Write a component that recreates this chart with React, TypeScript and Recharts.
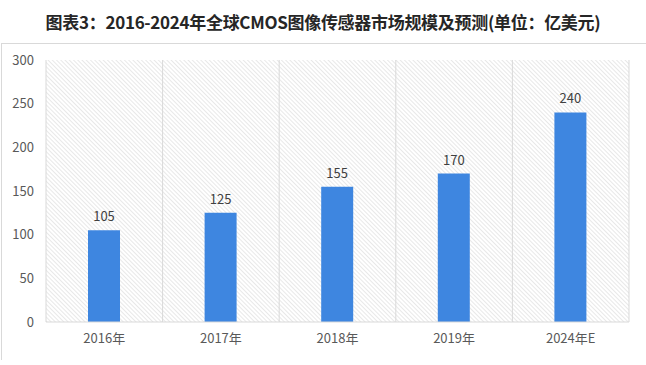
import React from 'react';
import { BarChart, Bar, XAxis, YAxis, CartesianGrid, LabelList } from 'recharts';

const categories = ['2016年', '2017年', '2018年', '2019年', '2024年E'];
const marketSize = [105, 125, 155, 170, 240];
const yTicks = [0, 50, 100, 150, 200, 250, 300];
const title = '图表3：2016-2024年全球CMOS图像传感器市场规模及预测(单位：亿美元)';

const data = categories.map((c, i) => ({ name: c, value: marketSize[i] }));

const FONT = '"Noto Sans CJK SC", "Noto Sans", sans-serif';

export default function App() {
  return (
    <div style={{ position: 'absolute', left: 0, top: 0, width: 646, height: 365, background: '#fff', overflow: 'hidden', fontFamily: FONT }}>
      <div style={{ position: 'absolute', left: 0, top: 8, width: 646, textAlign: 'center', fontSize: 17, fontWeight: 700, color: '#262626', lineHeight: '28px', letterSpacing: -0.3 }}>
        {title}
      </div>
      <div style={{ position: 'absolute', left: 1, top: 43, width: 645, height: 1, background: '#D9D9D9' }} />
      <div style={{ position: 'absolute', left: 1, top: 43, width: 1, height: 317, background: '#D9D9D9' }} />
      <div style={{ position: 'absolute', left: 0, top: 0 }}>
        <BarChart width={646} height={365} data={data} margin={{ top: 60, right: 17, bottom: 13, left: 6 }}>
          <defs>
            <pattern id="hatch" width="3" height="3" patternUnits="userSpaceOnUse" patternTransform="rotate(-45)">
              <line x1="0" y1="0" x2="0" y2="3" stroke="#CDCDCD" strokeWidth="0.9" />
            </pattern>
          </defs>
          <CartesianGrid
            horizontal={false}
            stroke="#D9D9D9"
            fill="url(#hatch)"
            fillOpacity={1}
            verticalCoordinatesGenerator={({ offset }: any) =>
              categories.map((_, i) => offset.left + (offset.width * i) / categories.length).concat([offset.left + offset.width])
            }
          />
          <XAxis
            dataKey="name"
            axisLine={{ stroke: '#D9D9D9' }}
            tickLine={false}
            tickSize={0}
            tickMargin={12}
            height={30}
            tick={{ fontSize: 13, fill: '#595959', fontFamily: FONT }}
          />
          <YAxis
            domain={[0, 300]}
            ticks={yTicks}
            axisLine={false}
            tickLine={false}
            tickSize={0}
            tickMargin={12}
            width={40}
            tick={{ fontSize: 13, fill: '#595959', fontFamily: FONT }}
          />
          <Bar dataKey="value" fill="#3E86E0" barSize={32} isAnimationActive={false}>
            <LabelList dataKey="value" position="top" offset={9} style={{ fontSize: 13, fill: '#404040', fontFamily: FONT }} />
          </Bar>
        </BarChart>
      </div>
    </div>
  );
}
